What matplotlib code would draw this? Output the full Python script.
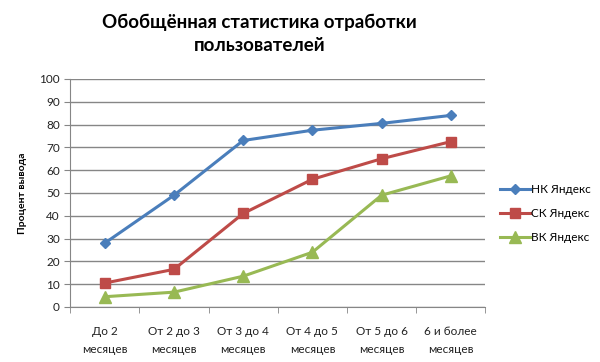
import numpy as np
import matplotlib.pyplot as plt

categories = ['До 2\nмесяцев', 'От 2 до 3\nмесяцев', 'От 3 до 4\nмесяцев',
              'От 4 до 5\nмесяцев', 'От 5 до 6\nмесяцев', '6 и более\nмесяцев']
nk_yandex = [28, 49, 73, 77.5, 80.5, 84]
sk_yandex = [10.5, 16.5, 41, 56, 65, 72.5]
vk_yandex = [4.5, 6.5, 13.5, 24, 49, 57.5]
series_names = ['НК Яндекс', 'СК Яндекс', 'ВК Яндекс']

plt.rcParams['font.family'] = ['Lato', 'DejaVu Sans']

fig = plt.figure(figsize=(6, 3.62), dpi=100)
ax = fig.add_axes([0.117, 0.152, 0.692, 0.630])

x = np.arange(len(categories))
ax.plot(x, nk_yandex, color='#4A7EBB', lw=2.2, marker='D', ms=5.5, label=series_names[0])
ax.plot(x, sk_yandex, color='#BE4B48', lw=2.2, marker='s', ms=7.5, label=series_names[1])
ax.plot(x, vk_yandex, color='#98B954', lw=2.2, marker='^', ms=8, label=series_names[2])

ax.set_xlim(-0.5, len(categories) - 0.5)
ax.set_ylim(0, 100)
ax.set_yticks(range(0, 101, 10))
ax.yaxis.grid(True, color='#868686', lw=1.0)
ax.set_axisbelow(True)

ax.set_xticks(x)
ax.set_xticklabels(categories, fontsize=8.5, color='#222222', linespacing=1.75)
ax.set_xticks(np.arange(-0.5, len(categories), 1), minor=True)
ax.tick_params(axis='x', which='major', length=0, pad=14)
ax.tick_params(axis='x', which='minor', length=4, color='#868686')
ax.tick_params(axis='y', length=4, color='#868686', labelsize=8.5, labelcolor='#222222')

for side in ['top', 'right']:
    ax.spines[side].set_visible(False)
for side in ['left', 'bottom']:
    ax.spines[side].set_color('#868686')

ax.set_ylabel('Процент вывода', fontsize=7.5, fontweight='bold', labelpad=9)

fig.text(0.433, 0.962, 'Обобщённая статистика отработки\nпользователей',
         ha='center', va='top', ma='center', fontsize=13.5, fontweight='bold',
         linespacing=1.45)

ax.legend(loc='center left', bbox_to_anchor=(1.01, 0.41), frameon=False,
          fontsize=8.5, handlelength=2.5, handletextpad=0.1, labelspacing=1.1)

fig.savefig('out.png', dpi=100)
